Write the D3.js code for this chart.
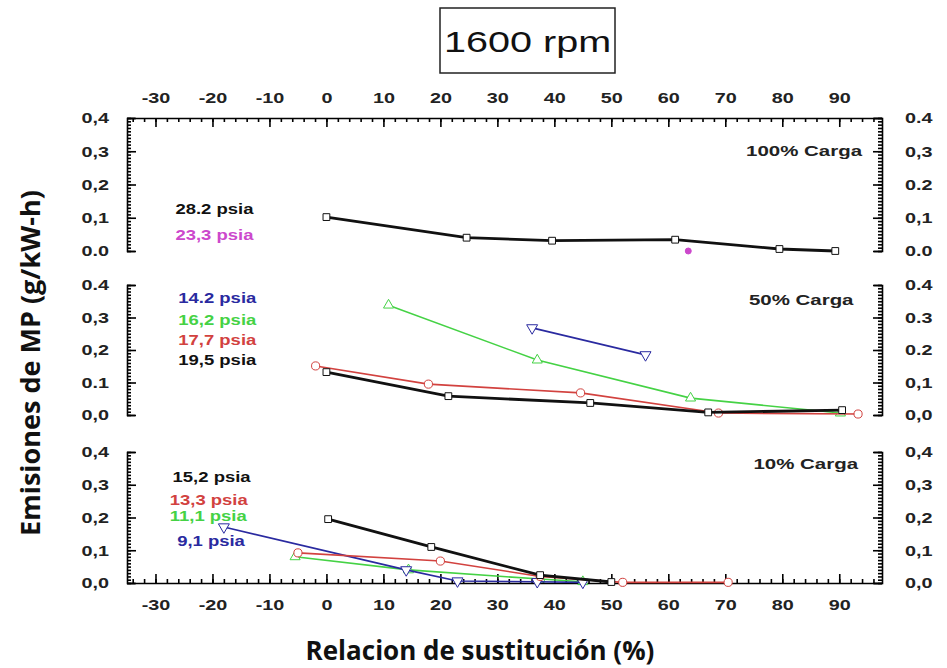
<!DOCTYPE html>
<html>
<head>
<meta charset="utf-8">
<script src="https://cdn.jsdelivr.net/npm/d3@7"></script>
<style>
  body { margin: 0; background: #fff; }
  svg { display: block; }
  .tick text, .lbl { font-family: "Liberation Sans", Arial, sans-serif; font-weight: bold; }
</style>
</head>
<body>
<svg id="chart" width="947" height="668"></svg>
<script>
// x axis (Relacion de sustitución)
const xTicks = [-30, -20, -10, 0, 10, 20, 30, 40, 50, 60, 70, 80, 90];
const yTicks = [0, 0.1, 0.2, 0.3, 0.4];

// tick labels as printed (the original mixes comma and dot)
const topLeftLabels  = ["0.0", "0,1", "0,2", "0,3", "0,4"];
const topRightLabels = ["0.0", "0,1", "0.2", "0,3", "0.4"];
const midLeftLabels  = ["0,0", "0.1", "0,2", "0,3", "0.4"];
const midRightLabels = ["0,0", "0,1", "0.2", "0.3", "0.4"];
const lowLeftLabels  = ["0,0", "0,1", "0,2", "0,3", "0,4"];
const lowRightLabels = ["0,0", "0,1", "0,2", "0,3", "0,4"];

// 100% Carga
const s282 = [[0, 0.102], [24.6, 0.040], [39.6, 0.031], [61.2, 0.034], [79.5, 0.006], [89.3, 0.0]];
const s233 = [[63.5, 0.0]];
// 50% Carga
const s142 = [[36.1, 0.268], [56.0, 0.185]];
const s162 = [[10.9, 0.338], [37.0, 0.169], [63.9, 0.052], [90.2, 0.006]];
const s177 = [[-1.9, 0.151], [17.9, 0.095], [44.6, 0.068], [68.8, 0.006], [93.3, 0.003]];
const s195 = [[0, 0.132], [21.4, 0.058], [46.3, 0.037], [67.0, 0.008], [90.5, 0.015]];
// 10% Carga
const s152 = [[0.3, 0.195], [18.4, 0.110], [37.5, 0.024], [50.0, 0.003]];
const s133 = [[-5.0, 0.092], [20.0, 0.067], [37.5, 0.020], [52.0, 0.002], [70.5, 0.002]];
const s111 = [[-5.5, 0.080], [14.4, 0.040], [37.5, 0.012], [45.0, 0.004]];
const s91  = [[-18.0, 0.171], [14.0, 0.040], [23.0, 0.006], [37.0, 0.004], [45.0, 0.002]];

const BLACK = "#111", BLUE = "#2a2aa0", GREEN = "#45d245", RED = "#d2423f", MAGENTA = "#cc48cc";
const SX = 1.32; // the source picture is stretched horizontally

const panels = [
  { top: 118, bottom: 251, name: "100% Carga", nameAt: [94.0, 0.285],
    left: topLeftLabels, right: topRightLabels, axisTop: true, axisBottom: false,
    series: [
      { data: s282, color: BLACK, width: 2.8, sym: "square", label: "28.2 psia", at: [-26.5, 0.112] },
      { data: s233, color: MAGENTA, width: 0, sym: "dot", label: "23,3 psia", at: [-26.5, 0.034] }
    ] },
  { top: 285, bottom: 415, name: "50% Carga", nameAt: [92.5, 0.338],
    left: midLeftLabels, right: midRightLabels, axisTop: false, axisBottom: false,
    series: [
      { data: s162, color: GREEN, width: 1.6, sym: "triangle", label: "16,2 psia", at: [-26, 0.278] },
      { data: s142, color: BLUE, width: 1.6, sym: "tridown", label: "14.2 psia", at: [-26, 0.346] },
      { data: s177, color: RED, width: 1.6, sym: "circle", label: "17,7 psia", at: [-26, 0.216] },
      { data: s195, color: BLACK, width: 2.8, sym: "square", label: "19,5 psia", at: [-26, 0.155] }
    ] },
  { top: 452, bottom: 583, name: "10% Carga", nameAt: [93.3, 0.347],
    left: lowLeftLabels, right: lowRightLabels, axisTop: false, axisBottom: true,
    series: [
      { data: s111, color: GREEN, width: 1.6, sym: "triangle", label: "11,1 psia", at: [-27.5, 0.190] },
      { data: s91, color: BLUE, width: 1.6, sym: "tridown", label: "9,1 psia", at: [-26.2, 0.114] },
      { data: s133, color: RED, width: 1.6, sym: "circle", label: "13,3 psia", at: [-27.5, 0.239] },
      { data: s152, color: BLACK, width: 2.8, sym: "square", label: "15,2 psia", at: [-27, 0.309] }
    ] }
];

const svg = d3.select("#chart");
const x = d3.scaleLinear().domain([-35, 97.5]).range([127, 882]);
const xMinor = d3.range(-34, 97, 2);

const symbols = {
  square: d3.symbol(d3.symbolSquare, 46),
  circle: d3.symbol(d3.symbolCircle, 52),
  triangle: d3.symbol(d3.symbolTriangle, 44),
  tridown: d3.symbol(d3.symbolTriangle, 52),
  dot: d3.symbol(d3.symbolCircle, 28)
};

// widen text in place, keeping its anchor point
function stretch(sel) {
  sel.each(function () {
    const t = d3.select(this);
    const tx = +t.attr("x") || 0, ty = +t.attr("y") || 0;
    t.attr("x", 0).attr("y", 0).attr("transform", `translate(${tx},${ty}) scale(${SX},1)`);
  });
}

function styleAxis(g) {
  g.selectAll("path, line").attr("stroke", "#000").attr("stroke-width", 1.6);
  g.selectAll("text").attr("font-size", 15).attr("fill", "#222").call(stretch);
}

panels.forEach(p => {
  const y = d3.scaleLinear().domain([0, 0.4]).range([p.bottom, p.top]);
  const yMinor = d3.range(0, 0.401, 0.01);
  const g = svg.append("g");

  // left spine
  g.append("g").attr("transform", `translate(${x.range()[0]},0)`)
    .call(d3.axisLeft(y).tickValues(yMinor).tickSize(-4).tickSizeOuter(-8).tickFormat(""))
    .call(styleAxis);
  g.append("g").attr("transform", `translate(${x.range()[0]},0)`)
    .call(d3.axisLeft(y).tickValues(yTicks).tickSize(-9).tickPadding(18)
      .tickFormat((d, i) => p.left[i]))
    .call(ax => ax.select(".domain").remove())
    .call(styleAxis);

  // right spine
  g.append("g").attr("transform", `translate(${x.range()[1]},0)`)
    .call(d3.axisRight(y).tickValues(yMinor).tickSize(-4).tickSizeOuter(-8).tickFormat(""))
    .call(styleAxis);
  g.append("g").attr("transform", `translate(${x.range()[1]},0)`)
    .call(d3.axisRight(y).tickValues(yTicks).tickSize(-9).tickPadding(23)
      .tickFormat((d, i) => p.right[i]))
    .call(ax => ax.select(".domain").remove())
    .call(styleAxis);

  if (p.axisTop) {
    g.append("g").attr("transform", `translate(0,${p.top})`)
      .call(d3.axisTop(x).tickValues(xMinor).tickSize(-4).tickSizeOuter(0).tickFormat(""))
      .call(styleAxis);
    g.append("g").attr("transform", `translate(0,${p.top})`)
      .call(d3.axisTop(x).tickValues(xTicks).tickSize(-9).tickPadding(15).tickFormat(d => String(d)))
      .call(ax => ax.select(".domain").remove())
      .call(styleAxis);
  }
  if (p.axisBottom) {
    g.append("g").attr("transform", `translate(0,${p.bottom})`)
      .call(d3.axisBottom(x).tickValues(xMinor).tickSize(-4).tickSizeOuter(0).tickFormat(""))
      .call(styleAxis);
    g.append("g").attr("transform", `translate(0,${p.bottom})`)
      .call(d3.axisBottom(x).tickValues(xTicks).tickSize(-9).tickPadding(16).tickFormat(d => String(d)))
      .call(ax => ax.select(".domain").remove())
      .call(styleAxis);
  }

  const line = d3.line().x(d => x(d[0])).y(d => y(d[1]));

  p.series.forEach(s => {
    if (s.width > 0) {
      g.append("path").datum(s.data)
        .attr("fill", "none").attr("stroke", s.color)
        .attr("stroke-width", s.width).attr("d", line);
    }
    g.append("g").selectAll("path").data(s.data).join("path")
      .attr("d", symbols[s.sym])
      .attr("transform", d => `translate(${x(d[0])},${y(d[1])})` + (s.sym === "tridown" ? " rotate(180)" : ""))
      .attr("fill", s.sym === "dot" ? s.color : "#fff")
      .attr("stroke", s.color).attr("stroke-width", 1);

    g.append("text").attr("class", "lbl")
      .attr("x", x(s.at[0])).attr("y", y(s.at[1]))
      .attr("font-size", 14).attr("fill", s.color)
      .text(s.label)
      .call(stretch);
  });

  g.append("text").attr("class", "lbl")
    .attr("x", x(p.nameAt[0])).attr("y", y(p.nameAt[1]))
    .attr("text-anchor", "end").attr("font-size", 15.5).attr("fill", "#222")
    .text(p.name)
    .call(stretch);
});

// title box
const title = svg.append("g");
title.append("rect").attr("x", 440).attr("y", 8).attr("width", 175).attr("height", 65)
  .attr("fill", "#fff").attr("stroke", "#222").attr("stroke-width", 1.5);
title.append("text").attr("x", 527.5).attr("y", 52)
  .attr("text-anchor", "middle").attr("font-family", "Liberation Sans, Arial, sans-serif")
  .attr("font-size", 30).attr("fill", "#111").text("1600 rpm")
  .call(stretch);

// axis titles
svg.append("text")
  .attr("transform", "translate(40,363) rotate(-90)")
  .attr("text-anchor", "middle").attr("font-family", "Open Sans, sans-serif")
  .attr("font-weight", "bold").attr("font-size", 27).attr("fill", "#111")
  .text("Emisiones de MP (g/kW-h)");

svg.append("text")
  .attr("x", 480).attr("y", 660)
  .attr("text-anchor", "middle").attr("font-family", "Open Sans, sans-serif")
  .attr("font-weight", "bold").attr("font-size", 26).attr("fill", "#111")
  .text("Relacion de sustitución (%)");
</script>
</body>
</html>
